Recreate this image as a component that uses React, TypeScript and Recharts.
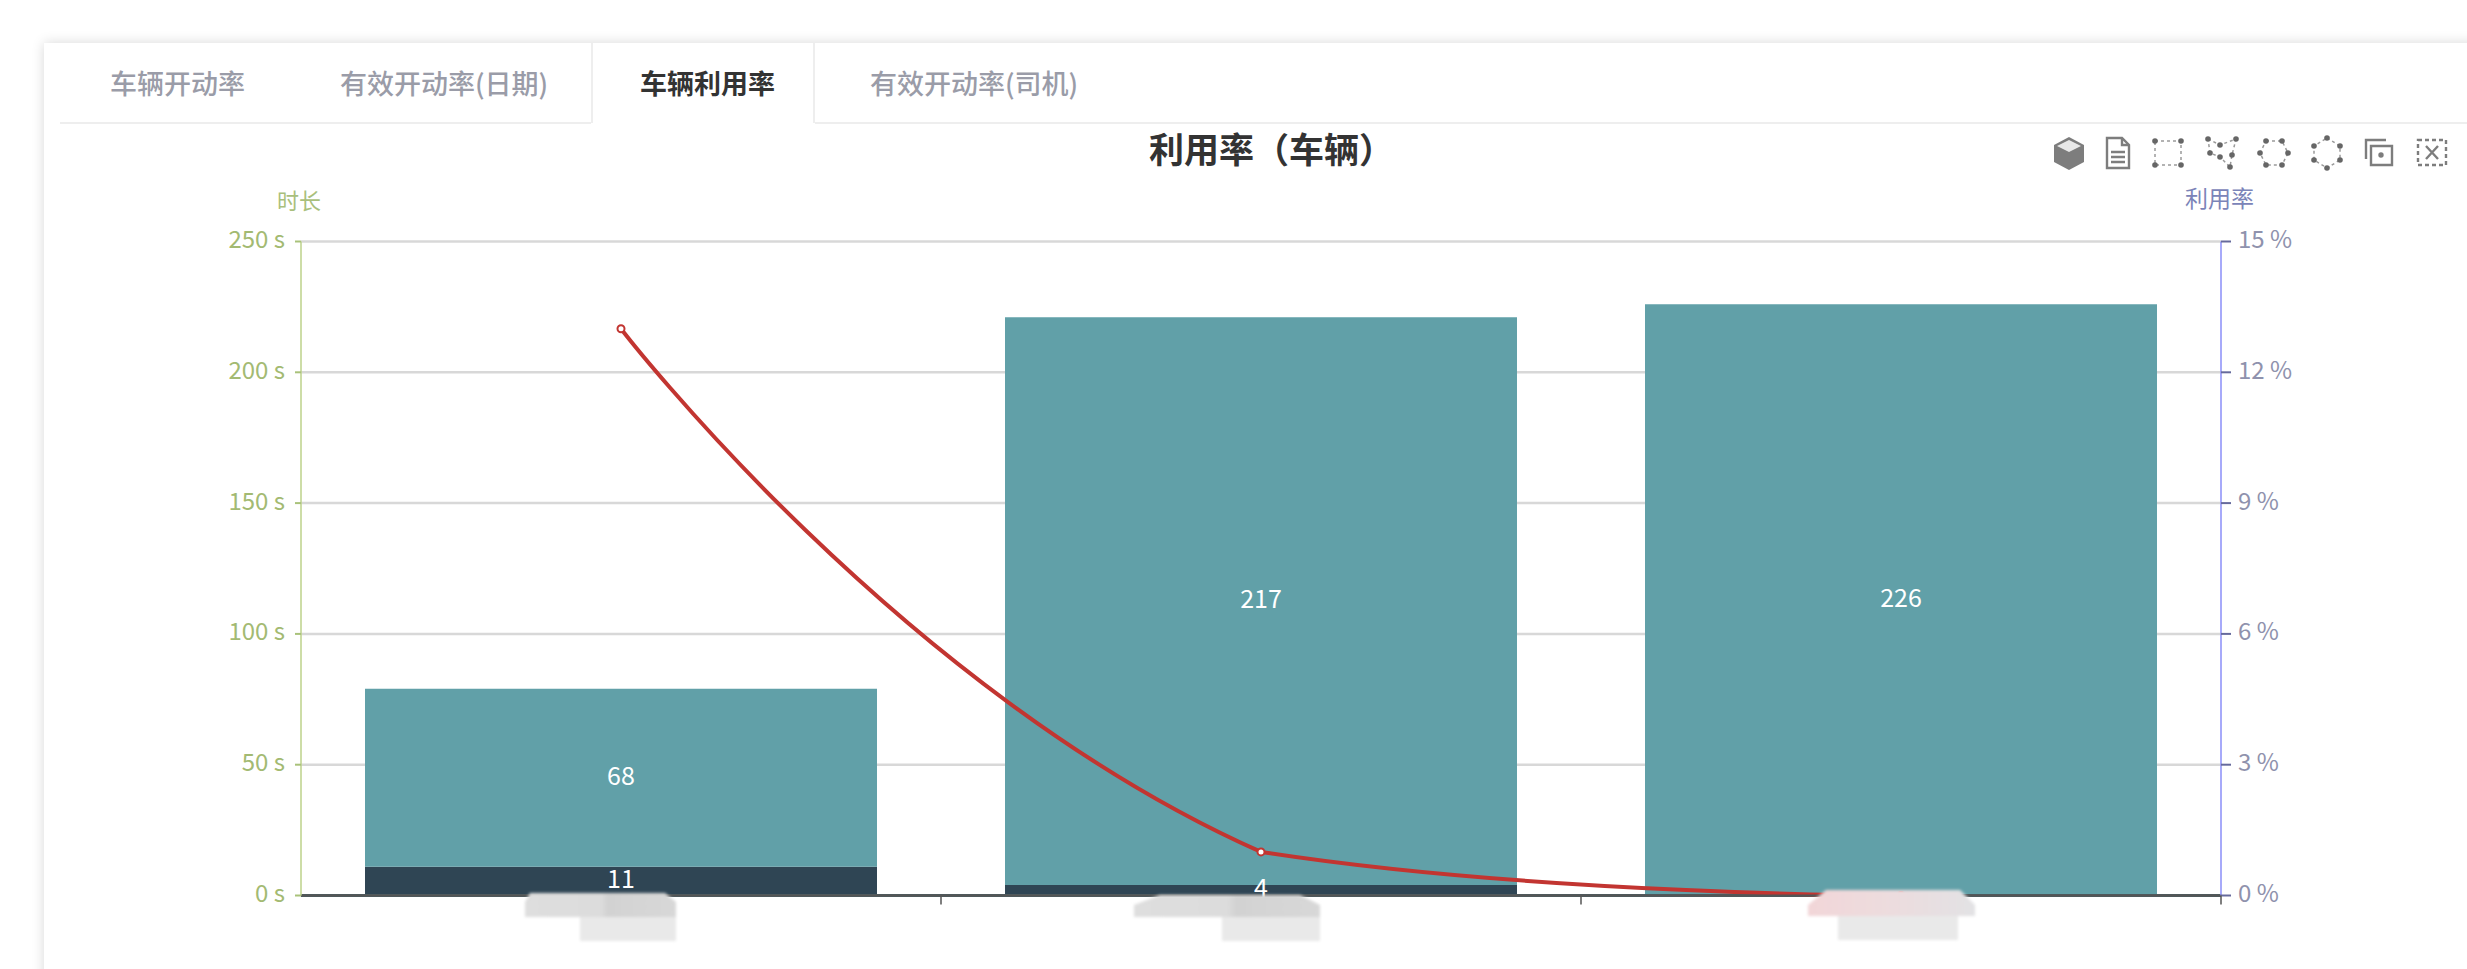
import React from "react";
import { ComposedChart, Bar, Line, XAxis, YAxis, CartesianGrid, LabelList, ReferenceLine } from "recharts";

// Chart values
const categories = ["a", "b", "c"];
const idleSeconds = [11, 4, 0];
const usedSeconds = [68, 217, 226];
const utilisation = [13, 1, 0];
const durationTicks = [0, 50, 100, 150, 200, 250];
const rateTicks = [0, 3, 6, 9, 12, 15];
const tabLabels = ["车辆开动率", "有效开动率(日期)", "车辆利用率", "有效开动率(司机)"];

const rows = categories.map((name, i) => ({
  name,
  idle: idleSeconds[i],
  used: usedSeconds[i],
  rate: utilisation[i],
}));

const CHART_W = 2467;
const CHART_H = 969;
const PLOT_LEFT = 301;
const PLOT_RIGHT = 2221;
const BAND = (PLOT_RIGHT - PLOT_LEFT) / categories.length;

const clamp = (v: number, p: number, q: number) => Math.min(Math.max(v, Math.min(p, q)), Math.max(p, q));
const tangentRatio = (pts: number[][], i: number) => {
  const prev = pts[i - 1];
  const cur = pts[i];
  const next = pts[i + 1];
  const lp = Math.hypot(cur[0] - prev[0], cur[1] - prev[1]);
  const ln = Math.hypot(next[0] - cur[0], next[1] - cur[1]);
  return ln / (ln + lp);
};
const controlAfter = (pts: number[][], i: number, k: number) => {
  if (i === 0 || i === pts.length - 1) return pts[i];
  const r = tangentRatio(pts, i);
  const vx = (pts[i + 1][0] - pts[i - 1][0]) * k;
  const vy = (pts[i + 1][1] - pts[i - 1][1]) * k;
  return [pts[i][0] + vx * r, clamp(pts[i][1] + vy * r, pts[i][1], pts[i + 1][1])];
};
const controlBefore = (pts: number[][], i: number, k: number) => {
  if (i === 0 || i === pts.length - 1) return pts[i];
  const r = tangentRatio(pts, i);
  const vx = (pts[i + 1][0] - pts[i - 1][0]) * k;
  const vy = (pts[i + 1][1] - pts[i - 1][1]) * k;
  return [pts[i][0] - vx * (1 - r), clamp(pts[i][1] - vy * (1 - r), pts[i - 1][1], pts[i][1])];
};

// Smoothing used for the rate line: neighbour-chord tangents split by segment
// length, with control points kept inside each segment's vertical range.
const chordSmooth = (ctx: any) => {
  let pts: number[][] = [];
  const k = 0.5;
  return {
    areaStart() {},
    areaEnd() {},
    lineStart() {
      pts = [];
    },
    point(x: number, y: number) {
      pts.push([+x, +y]);
    },
    lineEnd() {
      if (!pts.length) return;
      ctx.moveTo(pts[0][0], pts[0][1]);
      for (let i = 1; i < pts.length; i++) {
        const c1 = controlAfter(pts, i - 1, k);
        const c2 = controlBefore(pts, i, k);
        ctx.bezierCurveTo(c1[0], c1[1], c2[0], c2[1], pts[i][0], pts[i][1]);
      }
    },
  };
};

// Tick marks sit on the band boundaries rather than the band centres
const BoundaryTick = (props: any) => {
  const { x } = props;
  const baseY = 895.5;
  return <line x1={x + BAND / 2} x2={x + BAND / 2} y1={baseY} y2={baseY + 9} stroke="#555" strokeWidth={1.5} />;
};

// Masked category names, painted over the axis
const masks = [
  { upper: "530,893 665,893 676,902 676,917 525,917 525,902", lower: "580,917 676,917 676,941 580,941", fill: "url(#maskGrey)" },
  { upper: "1160,895 1300,895 1320,905 1320,917 1134,917 1134,905", lower: "1222,917 1320,917 1320,941 1222,941", fill: "url(#maskGrey)" },
  { upper: "1826,890 1960,890 1975,905 1975,916 1808,916 1808,905", lower: "1838,916 1958,916 1958,940 1838,940", fill: "url(#maskPink)" },
];

const Hex = () => (
  <g>
    <path d="M16 0 L31 8 V25 L16 33 L1 25 V8 Z" fill="#7d7d7d" />
    <path d="M16 3 L28 9 L16 15 L4 9 Z" fill="#e8e8e8" />
  </g>
);
const Doc = () => (
  <g fill="none" stroke="#7d7d7d" strokeWidth={2.4}>
    <path d="M5 1 H20 L27 8 V31 H5 Z" />
    <path d="M20 1 V8 H27 M9 15 H23 M9 20 H23 M9 25 H23" />
  </g>
);
const Dots = ({ pts }: { pts: number[][] }) => (
  <g>
    <path d={"M" + pts.map((p) => p.join(" ")).join(" L") + " Z"} fill="none" stroke="#9a9a9a" strokeWidth={1.5} strokeDasharray="3 3" />
    {pts.map((p, i) => (
      <circle key={i} cx={p[0]} cy={p[1]} r={2.8} fill="#666" />
    ))}
  </g>
);
const toolIcons = [
  { cx: 2069, el: <Hex /> },
  { cx: 2118, el: <Doc /> },
  { cx: 2168, el: <Dots pts={[[3, 4], [29, 4], [29, 28], [3, 28]]} /> },
  { cx: 2222, el: <Dots pts={[[2, 2], [14, 8], [30, 2], [26, 18], [24, 30], [14, 20], [4, 16]]} /> },
  { cx: 2274, el: <Dots pts={[[8, 4], [24, 4], [30, 16], [24, 28], [8, 28], [2, 16]]} /> },
  { cx: 2327, el: <Dots pts={[[16, 1], [29, 9], [29, 23], [16, 31], [3, 23], [3, 9]]} /> },
  {
    cx: 2378,
    el: (
      <g fill="none" stroke="#7d7d7d" strokeWidth={2.4}>
        <path d="M9 9 H30 V28 H9 Z" />
        <path d="M4 22 V3 H24" />
        <circle cx={19} cy={18} r={1.5} fill="#7d7d7d" />
      </g>
    ),
  },
  {
    cx: 2432,
    el: (
      <g fill="none" stroke="#7d7d7d" strokeWidth={2.4}>
        <path d="M2 3 H30 V28 H2 Z" strokeDasharray="4 3" />
        <path d="M10 9 L22 22 M22 9 L10 22" />
      </g>
    ),
  },
];

const font = "'Noto Sans CJK SC', 'Noto Sans', sans-serif";

export default function App() {
  return (
    <div style={{ position: "absolute", left: 0, top: 0, width: CHART_W, height: CHART_H, overflow: "hidden", background: "#fff", fontFamily: font }}>
      {/* Card and tab strip */}
      <div style={{ position: "absolute", left: 44, top: 43, width: 2600, height: 1100, background: "#fff", boxShadow: "0 0 12px #d8d8d8" }} />
      <div style={{ position: "absolute", left: 60, top: 122, width: 531, height: 2, background: "#eeeeee" }} />
      <div style={{ position: "absolute", left: 815, top: 122, width: 1660, height: 2, background: "#eeeeee" }} />
      <div style={{ position: "absolute", left: 591, top: 43, width: 224, height: 80, boxSizing: "border-box", borderLeft: "2px solid #eeeeee", borderRight: "2px solid #eeeeee" }} />
      {tabLabels.map((t, i) => (
        <div
          key={t}
          style={{
            position: "absolute",
            left: [110, 340, 640, 870][i],
            top: 63,
            fontSize: 27,
            lineHeight: "40px",
            whiteSpace: "nowrap",
            color: i === 2 ? "#333" : "#9a9ca8",
            fontWeight: i === 2 ? 700 : 500,
          }}
        >
          {t}
        </div>
      ))}

      <ComposedChart
        width={CHART_W}
        height={CHART_H}
        data={rows}
        barCategoryGap="10%"
        margin={{ top: 241.5, right: CHART_W - PLOT_RIGHT - 100, bottom: 13.5, left: PLOT_LEFT - 100 }}
        style={{ position: "absolute", left: 0, top: 0 }}
      >
        <CartesianGrid vertical={false} yAxisId="time" stroke="#d8d8d8" strokeWidth={2.5} />
        <XAxis dataKey="name" height={60} axisLine={{ stroke: "#555", strokeWidth: 2 }} tickLine={false} tick={<BoundaryTick />} interval={0} />
        <YAxis
          yAxisId="time"
          width={100}
          domain={[0, 250]}
          ticks={durationTicks}
          tickFormatter={(v: number) => `${v} s`}
          axisLine={{ stroke: "#bcd28a", strokeWidth: 1.5 }}
          tickLine={{ stroke: "#a9c27a", strokeWidth: 2 }}
          tickSize={6}
          tickMargin={10}
          tick={{ fill: "#a3ba72", fontSize: 24, fontFamily: font, dy: -2 }}
        />
        <YAxis
          yAxisId="pct"
          orientation="right"
          width={100}
          domain={[0, 15]}
          ticks={rateTicks}
          tickFormatter={(v: number) => `${v} %`}
          axisLine={{ stroke: "#8a8ef8", strokeWidth: 1.5 }}
          tickLine={{ stroke: "#666a9c", strokeWidth: 2 }}
          tickSize={10}
          tickMargin={7}
          tick={{ fill: "#8f92ad", fontSize: 24, fontFamily: font, dy: -2 }}
        />
        <Bar yAxisId="time" dataKey="idle" stackId="t" fill="#2f4554" isAnimationActive={false}>
          <LabelList
            dataKey="idle"
            position="center"
            fill="#fff"
            fontSize={25}
            fontFamily={font}
            dy={-2}
            formatter={(v: number) => (v ? v : "")}
          />
        </Bar>
        <Bar yAxisId="time" dataKey="used" stackId="t" fill="#61a0a8" isAnimationActive={false}>
          <LabelList dataKey="used" position="center" fill="#fff" fontSize={25} fontFamily={font} dy={-2} />
        </Bar>
        <ReferenceLine yAxisId="time" y={0} stroke="#4a5f64" strokeWidth={3} />
        <Line
          yAxisId="pct"
          type={chordSmooth as any}
          dataKey="rate"
          stroke="#c23531"
          strokeWidth={4}
          dot={{ r: 3.5, fill: "#fff", stroke: "#c23531", strokeWidth: 2 }}
          isAnimationActive={false}
        />
      </ComposedChart>

      {/* Title and axis names */}
      <div style={{ position: "absolute", left: 1149, top: 123, fontSize: 35, lineHeight: "50px", fontWeight: 700, color: "#333", whiteSpace: "nowrap" }}>
        利用率（车辆）
      </div>
      <div style={{ position: "absolute", left: 277, top: 184, fontSize: 22, lineHeight: "30px", color: "#a9bf7c" }}>时长</div>
      <div style={{ position: "absolute", left: 2185, top: 182, fontSize: 23, lineHeight: "30px", color: "#7b84b8" }}>利用率</div>

      {/* Toolbox and masked names */}
      <svg width={CHART_W} height={CHART_H} style={{ position: "absolute", left: 0, top: 0, pointerEvents: "none" }}>
        <defs>
          <linearGradient id="maskGrey" x1="0" x2="1" y1="0" y2="0">
            <stop offset="0" stopColor="#dedede" />
            <stop offset="0.5" stopColor="#dcdcdc" />
            <stop offset="0.55" stopColor="#d2d2d2" />
            <stop offset="1" stopColor="#d8d8d8" />
          </linearGradient>
          <linearGradient id="maskPink" x1="0" x2="1" y1="0" y2="0">
            <stop offset="0" stopColor="#f2d6d8" />
            <stop offset="0.5" stopColor="#ecdcde" />
            <stop offset="1" stopColor="#e2e2e4" />
          </linearGradient>
          <filter id="soft" x="-10%" y="-10%" width="120%" height="120%">
            <feGaussianBlur stdDeviation="1.6" />
          </filter>
        </defs>
        {masks.map((m, i) => (
          <g key={i} filter="url(#soft)">
            <polygon points={m.lower} fill="#e9e9e9" />
            <polygon points={m.upper} fill={m.fill} />
          </g>
        ))}
        {toolIcons.map((t) => (
          <g key={t.cx} transform={`translate(${t.cx - 16}, 137)`}>
            {t.el}
          </g>
        ))}
      </svg>
    </div>
  );
}
